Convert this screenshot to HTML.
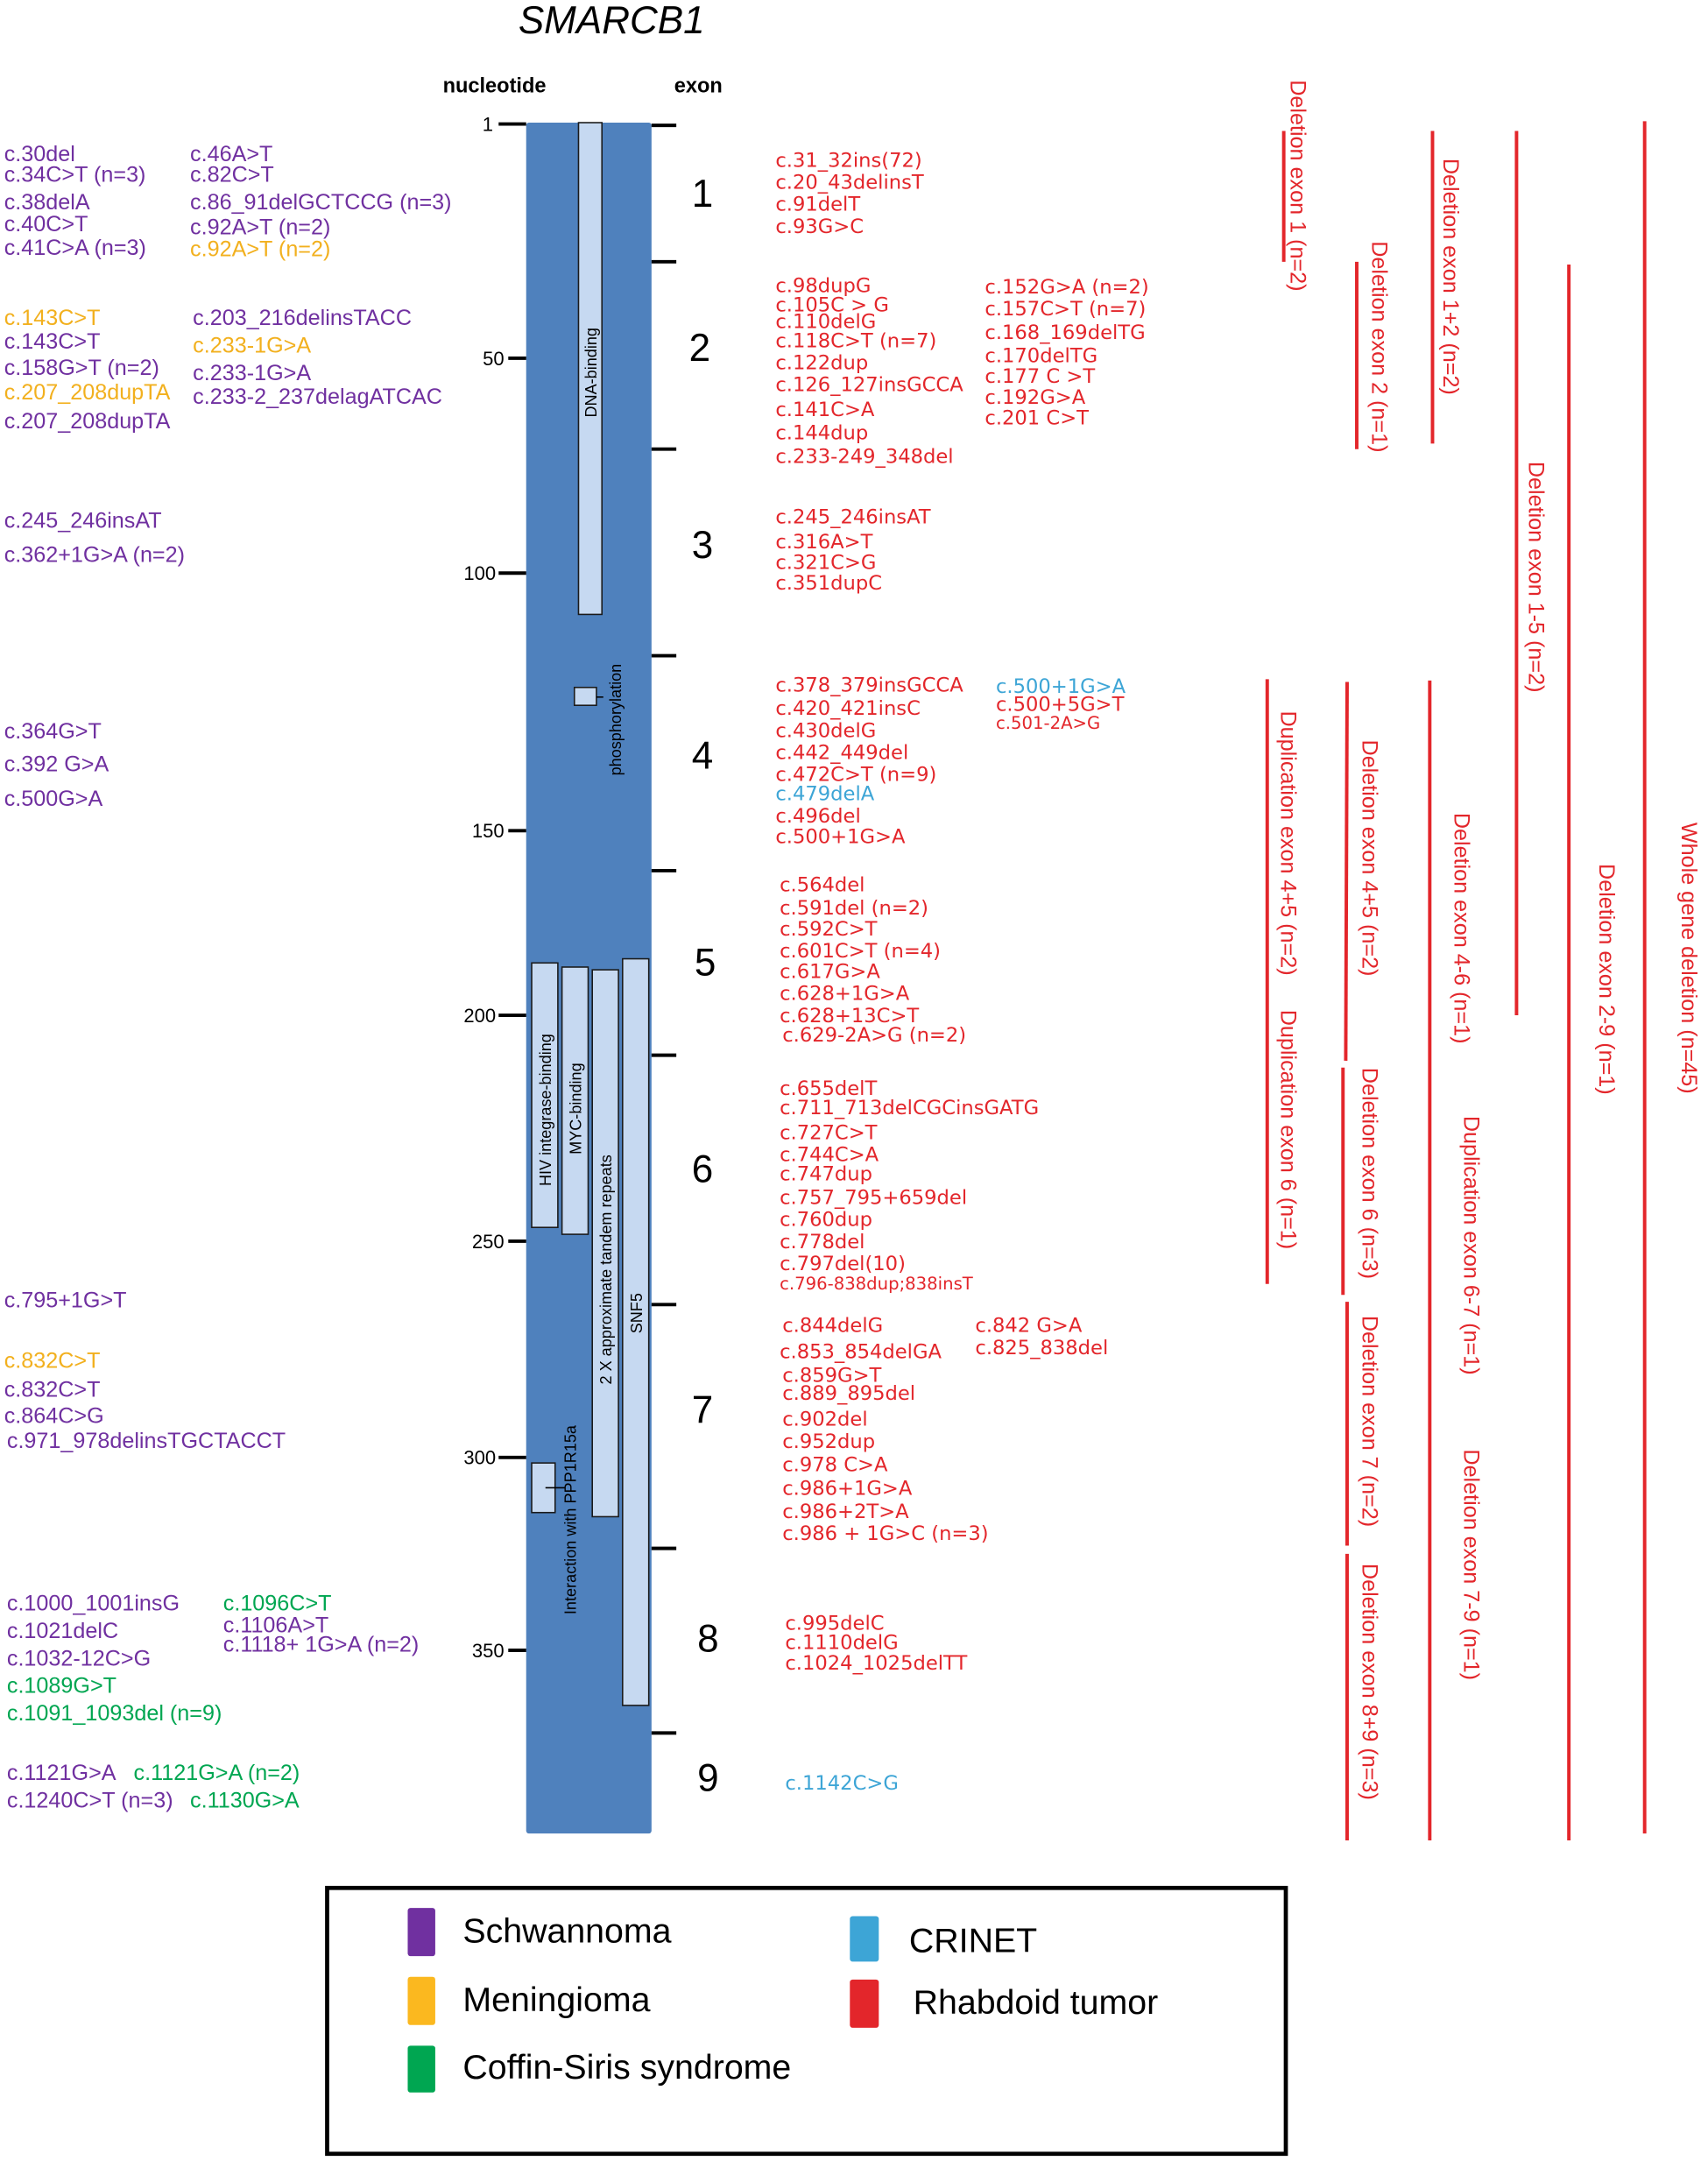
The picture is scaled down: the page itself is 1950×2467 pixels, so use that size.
<!DOCTYPE html>
<html><head><meta charset="utf-8"><style>
html,body{margin:0;padding:0;background:#fff}
svg{display:block}
.p{fill:#7030a0}.y{fill:#f2b01e}.g{fill:#00a651}.r{fill:#e3262b}.b{fill:#3da5d6}
.L{font-family:"Liberation Sans Narrow","Liberation Sans",sans-serif;font-size:16px}
.R{font-family:"DejaVu Sans","Liberation Sans",sans-serif;font-size:14.4px}
.V{font-family:"Liberation Sans Narrow","Liberation Sans",sans-serif;font-size:16px;fill:#e3262b}
.D{font-family:"Liberation Sans","DejaVu Sans",sans-serif;font-size:11.5px;fill:#000}
</style></head><body>
<svg width="1950" height="2467" viewBox="0 0 1240 1568.7" xmlns="http://www.w3.org/2000/svg">
<rect width="1240" height="1569" fill="#fff"/>
<text x="444" y="24" font-family="Liberation Sans,sans-serif" font-style="italic" font-size="28" text-anchor="middle">SMARCB1</text>
<text x="359" y="67" font-family="Liberation Sans,sans-serif" font-weight="bold" font-size="15" text-anchor="middle">nucleotide</text>
<text x="507" y="67" font-family="Liberation Sans,sans-serif" font-weight="bold" font-size="15" text-anchor="middle">exon</text>
<rect x="382" y="89" width="91" height="1242" rx="2" fill="#4f81bd"/>
<g stroke="#000" stroke-width="2.5">
<line x1="362" y1="90" x2="382" y2="90"/><line x1="369" y1="260" x2="382" y2="260"/>
<line x1="362" y1="416" x2="382" y2="416"/><line x1="369" y1="603" x2="382" y2="603"/>
<line x1="362" y1="737" x2="382" y2="737"/><line x1="369" y1="901" x2="382" y2="901"/>
<line x1="362" y1="1058" x2="382" y2="1058"/><line x1="369" y1="1198" x2="382" y2="1198"/>
<line x1="473" y1="91" x2="491" y2="91"/><line x1="473" y1="190" x2="491" y2="190"/>
<line x1="473" y1="326" x2="491" y2="326"/><line x1="473" y1="476" x2="491" y2="476"/>
<line x1="473" y1="632" x2="491" y2="632"/><line x1="473" y1="766" x2="491" y2="766"/>
<line x1="473" y1="947" x2="491" y2="947"/><line x1="473" y1="1124" x2="491" y2="1124"/>
<line x1="473" y1="1258" x2="491" y2="1258"/>
</g>
<g font-family="Liberation Sans,sans-serif" font-size="14" text-anchor="end">
<text x="358" y="95">1</text><text x="366" y="265">50</text><text x="360" y="421">100</text>
<text x="366" y="608">150</text><text x="360" y="742">200</text><text x="366" y="906">250</text>
<text x="360" y="1063">300</text><text x="366" y="1203">350</text>
</g>
<g font-family="Liberation Sans,sans-serif" font-size="28" text-anchor="middle">
<text x="510" y="150">1</text><text x="508" y="262">2</text><text x="510" y="405">3</text>
<text x="510" y="558">4</text><text x="512" y="708">5</text><text x="510" y="858">6</text>
<text x="510" y="1033">7</text><text x="514" y="1199">8</text><text x="514" y="1300">9</text>
</g>
<g fill="#c6d9f1" stroke="#1a1a1a" stroke-width="1">
<rect x="420" y="89" width="17" height="357"/>
<rect x="417" y="499" width="16" height="13"/>
<rect x="386" y="699" width="19" height="192"/>
<rect x="408" y="702" width="19" height="194"/>
<rect x="430" y="704" width="19" height="397"/>
<rect x="452" y="696" width="19" height="542"/>
<rect x="386" y="1062" width="17" height="36"/>
</g>
<line x1="433" y1="506" x2="438" y2="506" stroke="#000"/>
<line x1="396" y1="1080" x2="410" y2="1080" stroke="#000"/>
<text class="D" transform="translate(433,303) rotate(-90)">DNA-binding</text>
<text class="D" transform="translate(451,563) rotate(-90)">phosphorylation</text>
<text class="D" transform="translate(400,861) rotate(-90)">HIV integrase-binding</text>
<text class="D" transform="translate(422,838) rotate(-90)">MYC-binding</text>
<text class="D" transform="translate(444,1005) rotate(-90)">2 X approximate tandem repeats</text>
<text class="D" transform="translate(466,968) rotate(-90)">SNF5</text>
<text class="D" transform="translate(418,1172) rotate(-90)">Interaction with PPP1R15a</text>
<g class="L">
<text class="p" x="3" y="117">c.30del</text><text class="p" x="3" y="132">c.34C&gt;T (n=3)</text>
<text class="p" x="3" y="152">c.38delA</text><text class="p" x="3" y="168">c.40C&gt;T</text>
<text class="p" x="3" y="185">c.41C&gt;A (n=3)</text>
<text class="p" x="138" y="117">c.46A&gt;T</text><text class="p" x="138" y="132">c.82C&gt;T</text>
<text class="p" x="138" y="152">c.86_91delGCTCCG (n=3)</text><text class="p" x="138" y="170">c.92A&gt;T (n=2)</text>
<text class="y" x="138" y="186">c.92A&gt;T (n=2)</text>
<text class="y" x="3" y="236">c.143C&gt;T</text><text class="p" x="3" y="253">c.143C&gt;T</text>
<text class="p" x="3" y="272">c.158G&gt;T (n=2)</text><text class="y" x="3" y="290">c.207_208dupTA</text>
<text class="p" x="3" y="311">c.207_208dupTA</text>
<text class="p" x="140" y="236">c.203_216delinsTACC</text><text class="y" x="140" y="256">c.233-1G&gt;A</text>
<text class="p" x="140" y="276">c.233-1G&gt;A</text><text class="p" x="140" y="293">c.233-2_237delagATCAC</text>
<text class="p" x="3" y="383">c.245_246insAT</text><text class="p" x="3" y="408">c.362+1G&gt;A (n=2)</text>
<text class="p" x="3" y="536">c.364G&gt;T</text><text class="p" x="3" y="560">c.392 G&gt;A</text>
<text class="p" x="3" y="585">c.500G&gt;A</text>
<text class="p" x="3" y="949">c.795+1G&gt;T</text><text class="y" x="3" y="993">c.832C&gt;T</text>
<text class="p" x="3" y="1014">c.832C&gt;T</text><text class="p" x="3" y="1033">c.864C&gt;G</text>
<text class="p" x="5" y="1051">c.971_978delinsTGCTACCT</text>
<text class="p" x="5" y="1169">c.1000_1001insG</text><text class="p" x="5" y="1189">c.1021delC</text>
<text class="p" x="5" y="1209">c.1032-12C&gt;G</text><text class="g" x="5" y="1229">c.1089G&gt;T</text>
<text class="g" x="5" y="1249">c.1091_1093del (n=9)</text>
<text class="g" x="162" y="1169">c.1096C&gt;T</text><text class="p" x="162" y="1185">c.1106A&gt;T</text>
<text class="p" x="162" y="1199">c.1118+ 1G&gt;A (n=2)</text>
<text class="p" x="5" y="1292">c.1121G&gt;A</text><text class="g" x="97" y="1292">c.1121G&gt;A (n=2)</text>
<text class="p" x="5" y="1312">c.1240C&gt;T (n=3)</text><text class="g" x="138" y="1312">c.1130G&gt;A</text>
</g>
<g class="R">
<text class="r" x="563" y="121">c.31_32ins(72)</text><text class="r" x="563" y="137">c.20_43delinsT</text>
<text class="r" x="563" y="153">c.91delT</text><text class="r" x="563" y="169">c.93G&gt;C</text>
<text class="r" x="563" y="212">c.98dupG</text><text class="r" x="563" y="226">c.105C &gt; G</text>
<text class="r" x="563" y="238">c.110delG</text><text class="r" x="563" y="252">c.118C&gt;T (n=7)</text>
<text class="r" x="563" y="268">c.122dup</text><text class="r" x="563" y="284">c.126_127insGCCA</text>
<text class="r" x="563" y="302">c.141C&gt;A</text><text class="r" x="563" y="319">c.144dup</text>
<text class="r" x="563" y="336">c.233-249_348del</text>
<text class="r" x="715" y="213">c.152G&gt;A (n=2)</text><text class="r" x="715" y="229">c.157C&gt;T (n=7)</text>
<text class="r" x="715" y="246">c.168_169delTG</text><text class="r" x="715" y="263">c.170delTG</text>
<text class="r" x="715" y="278">c.177 C &gt;T</text><text class="r" x="715" y="293">c.192G&gt;A</text>
<text class="r" x="715" y="308">c.201 C&gt;T</text>
<text class="r" x="563" y="380">c.245_246insAT</text><text class="r" x="563" y="398">c.316A&gt;T</text>
<text class="r" x="563" y="413">c.321C&gt;G</text><text class="r" x="563" y="428">c.351dupC</text>
<text class="r" x="563" y="502">c.378_379insGCCA</text><text class="r" x="563" y="519">c.420_421insC</text>
<text class="r" x="563" y="535">c.430delG</text><text class="r" x="563" y="551">c.442_449del</text>
<text class="r" x="563" y="567">c.472C&gt;T (n=9)</text><text class="b" x="563" y="581">c.479delA</text>
<text class="r" x="563" y="597">c.496del</text><text class="r" x="563" y="612">c.500+1G&gt;A</text>
<text class="b" x="723" y="503">c.500+1G&gt;A</text><text class="r" x="723" y="516">c.500+5G&gt;T</text>
<text class="r" x="723" y="529" font-size="12.5">c.501-2A&gt;G</text>
<text class="r" x="566" y="647">c.564del</text><text class="r" x="566" y="664">c.591del (n=2)</text>
<text class="r" x="566" y="679">c.592C&gt;T</text><text class="r" x="566" y="695">c.601C&gt;T (n=4)</text>
<text class="r" x="566" y="710">c.617G&gt;A</text><text class="r" x="566" y="726">c.628+1G&gt;A</text>
<text class="r" x="566" y="742">c.628+13C&gt;T</text><text class="r" x="568" y="756">c.629-2A&gt;G (n=2)</text>
<text class="r" x="566" y="795">c.655delT</text><text class="r" x="566" y="809">c.711_713delCGCinsGATG</text>
<text class="r" x="566" y="827">c.727C&gt;T</text><text class="r" x="566" y="843">c.744C&gt;A</text>
<text class="r" x="566" y="857">c.747dup</text><text class="r" x="566" y="874">c.757_795+659del</text>
<text class="r" x="566" y="890">c.760dup</text><text class="r" x="566" y="906">c.778del</text>
<text class="r" x="566" y="922">c.797del(10)</text>
<text class="r" x="566" y="936" font-size="12.5">c.796-838dup;838insT</text>
<text class="r" x="568" y="967">c.844delG</text><text class="r" x="566" y="986">c.853_854delGA</text>
<text class="r" x="568" y="1003">c.859G&gt;T</text><text class="r" x="568" y="1016">c.889_895del</text>
<text class="r" x="568" y="1035">c.902del</text><text class="r" x="568" y="1051">c.952dup</text>
<text class="r" x="568" y="1068">c.978 C&gt;A</text><text class="r" x="568" y="1085">c.986+1G&gt;A</text>
<text class="r" x="568" y="1102">c.986+2T&gt;A</text><text class="r" x="568" y="1118">c.986 + 1G&gt;C (n=3)</text>
<text class="r" x="708" y="967">c.842 G&gt;A</text><text class="r" x="708" y="983">c.825_838del</text>
<text class="r" x="570" y="1183">c.995delC</text><text class="r" x="570" y="1197">c.1110delG</text>
<text class="r" x="570" y="1212">c.1024_1025delTT</text>
<text class="b" x="570" y="1299">c.1142C&gt;G</text>
</g>
<g stroke="#e3262b" stroke-width="2.5">
<line x1="932" y1="95" x2="932" y2="190"/>
<line x1="985" y1="190" x2="985" y2="326"/>
<line x1="1040" y1="95" x2="1040" y2="322"/>
<line x1="1101" y1="95" x2="1101" y2="737"/>
<line x1="1139" y1="192" x2="1139" y2="1336"/>
<line x1="1194" y1="88" x2="1194" y2="1331"/>
<line x1="920" y1="493" x2="920" y2="932"/>
<line x1="978" y1="495" x2="977" y2="770"/>
<line x1="1038" y1="494" x2="1038" y2="1336"/>
<line x1="975" y1="775" x2="975" y2="940"/>
<line x1="978" y1="945" x2="978" y2="1122"/>
<line x1="978" y1="1128" x2="978" y2="1336"/>
</g>
<g class="V">
<text transform="translate(937,58) rotate(90)">Deletion exon 1 (n=2)</text>
<text transform="translate(1048,115) rotate(90)">Deletion exon 1+2 (n=2)</text>
<text transform="translate(996,175) rotate(90)">Deletion exon 2 (n=1)</text>
<text transform="translate(1110,335) rotate(90)">Deletion exon 1-5 (n=2)</text>
<text transform="translate(1161,627) rotate(90)">Deletion exon 2-9 (n=1)</text>
<text transform="translate(1221,597) rotate(90)">Whole gene deletion (n=45)</text>
<text transform="translate(930,516) rotate(90)">Duplication exon 4+5 (n=2)</text>
<text transform="translate(930,733) rotate(90)">Duplication exon 6 (n=1)</text>
<text transform="translate(989,537) rotate(90)">Deletion exon 4+5 (n=2)</text>
<text transform="translate(1056,590) rotate(90)">Deletion exon 4-6 (n=1)</text>
<text transform="translate(1063,810) rotate(90)">Duplication exon 6-7 (n=1)</text>
<text transform="translate(1063,1052) rotate(90)">Deletion exon 7-9 (n=1)</text>
<text transform="translate(989,775) rotate(90)">Deletion exon 6 (n=3)</text>
<text transform="translate(989,955) rotate(90)">Deletion exon 7 (n=2)</text>
<text transform="translate(989,1135) rotate(90)">Deletion exon 8+9 (n=3)</text>
</g>
<rect x="237.5" y="1370.5" width="696" height="193" fill="none" stroke="#000" stroke-width="3"/>
<rect x="296" y="1385" width="20" height="35" rx="2" fill="#7030a0"/>
<rect x="296" y="1435" width="20" height="35" rx="2" fill="#fbb81f"/>
<rect x="296" y="1485" width="20" height="34" rx="2" fill="#00a651"/>
<rect x="617" y="1391" width="21" height="33" rx="2" fill="#3da5d6"/>
<rect x="617" y="1437" width="21" height="35" rx="2" fill="#e3262b"/>
<g font-family="Liberation Sans,sans-serif" font-size="25">
<text x="336" y="1410">Schwannoma</text>
<text x="336" y="1460">Meningioma</text>
<text x="336" y="1509">Coffin-Siris syndrome</text>
<text x="660" y="1417">CRINET</text>
<text x="663" y="1462">Rhabdoid tumor</text>
</g>
</svg>
</body></html>
